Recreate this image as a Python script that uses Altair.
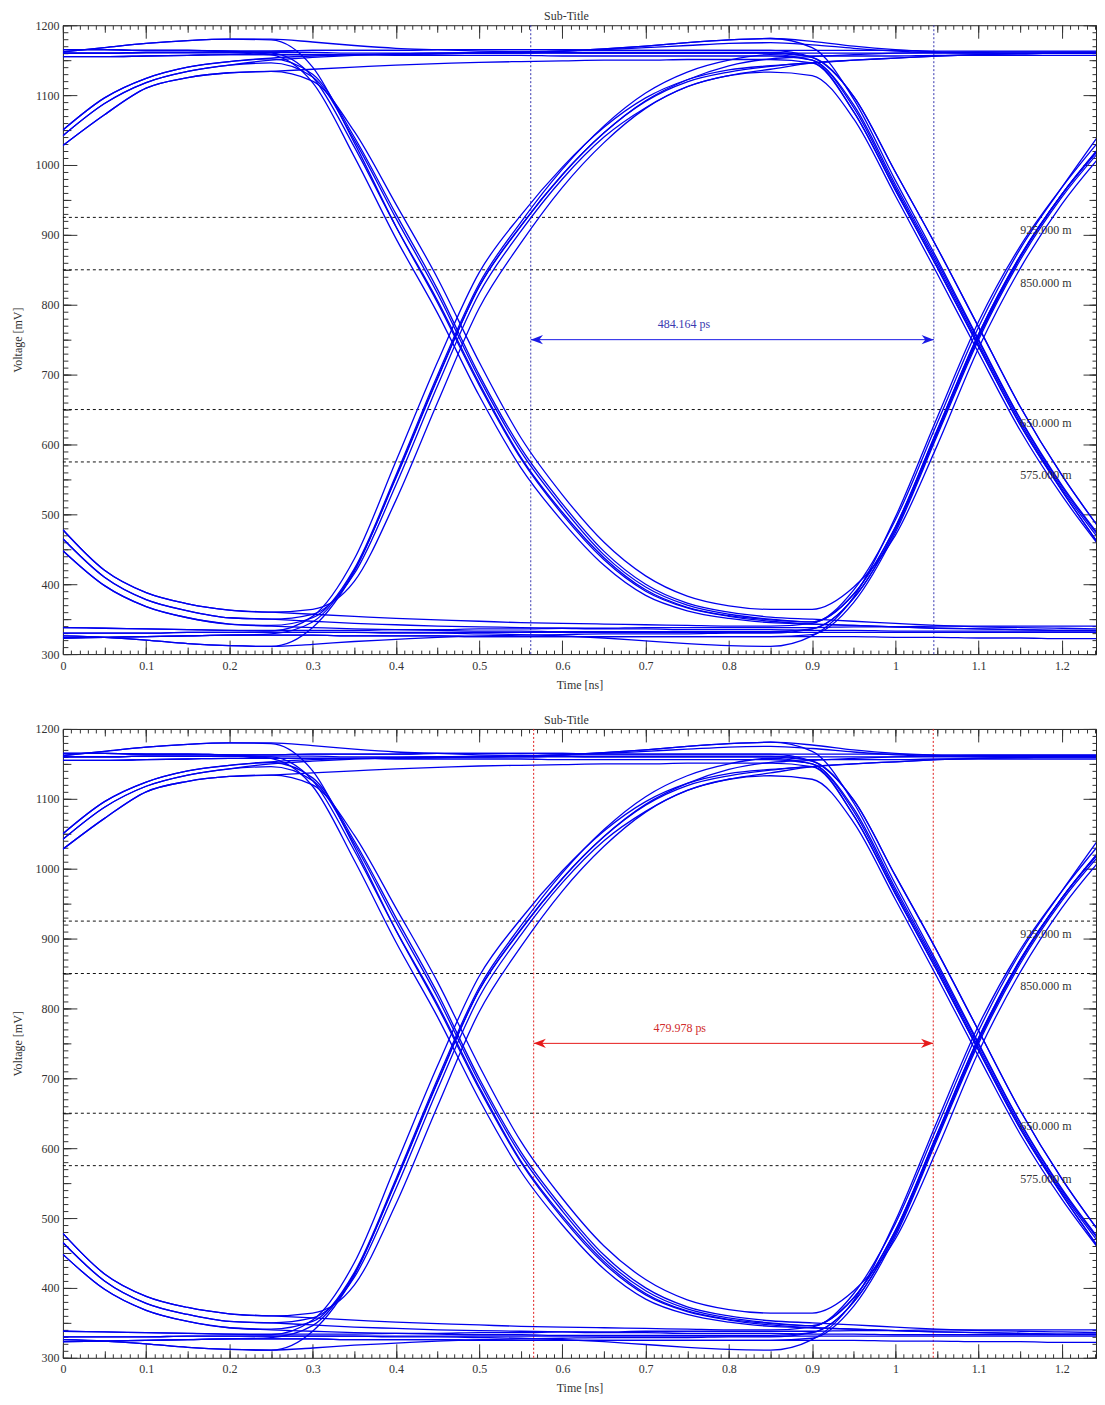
import altair as alt
import pandas as pd

FONT = "Liberation Serif"
TEXT_COLOR = "#333333"
TICK_COLOR = "#333333"
TRACE_BLUE = "#0000ee"

# ---------------- axes ----------------
X_MAX = 1.241
Y_MIN, Y_MAX = 300, 1200
X_TICK_LABELS = [0, 0.1, 0.2, 0.3, 0.4, 0.5, 0.6, 0.7, 0.8, 0.9, 1.0, 1.1, 1.2]
Y_TICK_LABELS = [300, 400, 500, 600, 700, 800, 900, 1000, 1100, 1200]

# ---------------- sample times (ns) ----------------
T_GRID = [0.00, 0.05, 0.10, 0.15, 0.20, 0.25, 0.30, 0.35, 0.40, 0.45, 0.50, 0.55, 0.60,
          0.65, 0.70, 0.75, 0.80, 0.85, 0.90, 0.95, 1.00, 1.05, 1.10, 1.15, 1.20, 1.25]

# --- trace pieces (mV) ---
# part A: t = 0.00 .. 0.20
A_RT1 = [1050, 1096, 1124, 1140, 1148]
A_RT2 = [1028, 1072, 1110, 1125, 1132]
A_RT3 = [1042, 1088, 1118, 1134, 1143]
A_H1 = [1160, 1160, 1161, 1161, 1161]
A_H2 = [1155, 1155, 1156, 1157, 1158]
A_H3 = [1165, 1165, 1164, 1164, 1163]
A_HB = [1162, 1168, 1174, 1178, 1180]
A_FT1 = [478, 420, 388, 372, 363]
A_FT2 = [465, 410, 378, 362, 352]
A_FT3 = [448, 398, 368, 352, 343]
A_L1 = [330, 330, 330, 331, 331]
A_L2 = [338, 337, 336, 335, 334]
A_L3 = [323, 324, 325, 326, 327]
A_LD = [326, 324, 320, 315, 312]

# part B: t = 0.25 .. 0.85
B_HHA = [1161, 1161, 1160, 1160, 1160, 1160, 1160, 1160, 1160, 1160, 1160, 1160, 1160]
B_HHB = [1158, 1158, 1158, 1157, 1157, 1157, 1157, 1156, 1156, 1156, 1156, 1156, 1156]
B_HHC = [1163, 1164, 1164, 1164, 1165, 1165, 1165, 1165, 1164, 1164, 1164, 1164, 1164]
B_HBS = [1180, 1176, 1171, 1167, 1165, 1163, 1162, 1161, 1160, 1160, 1160, 1160, 1160]
B_HB2 = [1158, 1158, 1158, 1158, 1159, 1160, 1161, 1163, 1166, 1170, 1175, 1179, 1181]
B_RH1 = [1153, 1156, 1158, 1159, 1160, 1160, 1160, 1161, 1161, 1161, 1161, 1161, 1161]
B_RH2 = [1134, 1137, 1140, 1143, 1145, 1147, 1148, 1149, 1150, 1150, 1151, 1151, 1151]
B_RH3 = [1150, 1154, 1157, 1159, 1160, 1161, 1162, 1163, 1165, 1168, 1171, 1174, 1175]
B_FA = [1158, 1118, 1012, 895, 788, 670, 567, 490, 427, 384, 362, 351, 345]
B_FB = [1152, 1130, 1040, 930, 822, 700, 595, 515, 447, 400, 373, 360, 353]
B_FC = [1134, 1120, 1048, 944, 838, 718, 610, 528, 460, 412, 383, 369, 364]
B_FD = [1179, 1140, 1032, 912, 803, 685, 580, 500, 435, 390, 366, 354, 347]
B_FE = [1160, 1126, 1026, 912, 806, 688, 582, 503, 438, 392, 367, 355, 349]
B_FF = [1146, 1126, 1036, 924, 816, 695, 590, 510, 442, 396, 370, 357, 350]
B_RA = [333, 354, 436, 576, 718, 846, 928, 997, 1054, 1096, 1122, 1136, 1142]
B_RA2 = [329, 346, 420, 552, 694, 826, 913, 986, 1046, 1091, 1119, 1133, 1141]
B_RB = [360, 364, 404, 520, 660, 795, 888, 968, 1032, 1081, 1112, 1128, 1137]
B_RB2 = [350, 357, 415, 542, 684, 816, 905, 980, 1040, 1082, 1112, 1128, 1133]
B_RC = [311, 338, 418, 553, 695, 826, 912, 986, 1046, 1092, 1122, 1142, 1152]
B_RD = [341, 352, 422, 556, 699, 830, 918, 994, 1056, 1103, 1133, 1150, 1158]
B_LLA = [331, 331, 331, 331, 331, 331, 331, 331, 331, 331, 331, 331, 331]
B_LLB = [334, 334, 334, 335, 335, 336, 336, 337, 337, 338, 338, 338, 338]
B_LLC = [327, 327, 326, 326, 326, 325, 325, 325, 325, 325, 325, 325, 325]
B_LDS = [311, 314, 318, 321, 324, 326, 327, 328, 329, 329, 329, 330, 330]
B_LD2 = [331, 331, 331, 330, 330, 329, 328, 326, 323, 319, 315, 312, 311]
B_FL1 = [360, 357, 354, 351, 349, 347, 345, 344, 343, 342, 341, 340, 340]
B_FL2 = [350, 347, 344, 342, 340, 339, 338, 337, 336, 336, 335, 335, 335]
B_FL3 = [340, 338, 336, 335, 334, 333, 333, 332, 332, 332, 332, 332, 332]

# part C: t = 0.90 .. 1.25
C_F2A = [1150, 1086, 972, 862, 748, 636, 540, 460]
C_F2B = [1154, 1098, 990, 882, 768, 654, 556, 472]
C_F2C = [1128, 1066, 956, 845, 731, 620, 527, 447]
C_F2D = [1168, 1094, 978, 866, 750, 637, 542, 462]
C_F2E = [1150, 1082, 968, 858, 744, 632, 537, 456]
C_F2F = [1146, 1076, 964, 854, 740, 628, 534, 448]
C_R2A = [346, 386, 482, 620, 758, 870, 958, 1030]
C_R2B = [364, 396, 470, 598, 738, 852, 944, 1018]
C_R2C = [326, 382, 496, 638, 776, 884, 968, 1042]
C_R2D = [336, 380, 478, 616, 754, 868, 958, 1032]
C_R2E = [344, 392, 492, 630, 768, 880, 968, 1052]
C_R2F = [328, 374, 474, 612, 750, 864, 954, 1026]
C_HH = [1160, 1160, 1160, 1160, 1160, 1160, 1160, 1160]
C_HHB = [1156, 1156, 1156, 1157, 1157, 1157, 1157, 1157]
C_HHC = [1164, 1164, 1164, 1163, 1163, 1163, 1163, 1163]
C_RH = [1146, 1150, 1153, 1156, 1158, 1159, 1160, 1160]
C_RHB = [1155, 1158, 1160, 1161, 1162, 1162, 1162, 1162]
C_HB = [1177, 1170, 1165, 1162, 1161, 1160, 1160, 1160]
C_HBB = [1172, 1167, 1163, 1161, 1160, 1160, 1160, 1160]
C_LL = [331, 331, 331, 331, 331, 331, 331, 331]
C_LLB = [338, 339, 339, 340, 340, 340, 340, 340]
C_LLC = [325, 325, 324, 324, 323, 323, 322, 322]
C_LLS = [334, 334, 333, 333, 333, 333, 333, 333]
C_FL = [343, 341, 339, 337, 336, 335, 334, 334]
C_FLB = [350, 347, 344, 341, 339, 338, 337, 336]

TRACES = [
    (A_H1, B_HHA, C_HH), (A_H2, B_HHB, C_F2E), (A_H3, B_FA, C_FL), (A_H1, B_FE, C_R2A),
    (A_HB, B_HBS, C_HHB), (A_HB, B_FD, C_FL), (A_RT1, B_RH1, C_F2B), (A_RT2, B_FC, C_R2B),
    (A_RT3, B_RH3, C_HBB), (A_RT1, B_FB, C_FLB), (A_RT2, B_RH2, C_F2F), (A_H2, B_HB2, C_F2D),
    (A_FT1, B_RB, C_RH), (A_FT2, B_RB2, C_F2C), (A_FT3, B_FL3, C_R2D), (A_FT1, B_FL1, C_R2E),
    (A_FT2, B_FL2, C_LLS), (A_L1, B_LLA, C_LL), (A_L2, B_RA, C_RH), (A_L3, B_RA2, C_F2F),
    (A_LD, B_RC, C_RHB), (A_LD, B_LDS, C_R2D), (A_L1, B_LD2, C_R2C), (A_L3, B_LLC, C_R2F),
    (A_H3, B_HHC, C_F2B), (A_FT3, B_RD, C_F2A), (A_L2, B_LLB, C_LLB), (A_RT3, B_FF, C_R2A),
    (A_H1, B_HB2, C_HB), (A_L3, B_LLC, C_LLC), (A_H3, B_HHC, C_HHC),
]

# ---------------- markers ----------------
LEVELS = [925, 850, 650, 575]
LEVEL_LABELS = ["925.000 m", "850.000 m", "650.000 m", "575.000 m"]
LEVEL_LABEL_T = 1.150
ARROW_V = 750
DELTA_V = 772

PANELS = [
    {"cursors": [0.5620, 1.0462], "delta": "484.164 ps", "delta_t": 0.746,
     "arrow": "#1a1ae6", "text": "#3a3ab0", "cursor": "#3434b0"},
    {"cursors": [0.5655, 1.0455], "delta": "479.978 ps", "delta_t": 0.741,
     "arrow": "#e61a1a", "text": "#d02a2a", "cursor": "#e01e1e"},
]

rows = []
for k, (a, b, c) in enumerate(TRACES):
    vals = a + b + c
    for t, v in zip(T_GRID, vals):
        rows.append({"trace": k, "t": t, "v": v})
trace_df = pd.DataFrame(rows)
level_df = pd.DataFrame({"v": LEVELS, "label": LEVEL_LABELS,
                         "t": [LEVEL_LABEL_T] * len(LEVELS)})

xs = alt.Scale(domain=[0, X_MAX], nice=False, zero=False)
ys = alt.Scale(domain=[Y_MIN, Y_MAX], nice=False, zero=False)

ARROW_LEFT = "M0,0 L2,-0.75 L1.4,0 L2,0.75 Z"
ARROW_RIGHT = "M0,0 L-2,-0.75 L-1.4,0 L-2,0.75 Z"


def tick_axis(orient, size, count):
    return alt.Axis(orient=orient, offset=-size, tickSize=size, tickCount=count,
                    labels=False, domain=False, grid=False, ticks=True,
                    tickColor=TICK_COLOR, tickWidth=1, title=None)


def panel(p):
    c0, c1 = p["cursors"]
    arrow_df = pd.DataFrame({"t1": [c0], "t2": [c1], "v": [ARROW_V]})
    head_l = pd.DataFrame({"t": [c0], "v": [ARROW_V]})
    head_r = pd.DataFrame({"t": [c1], "v": [ARROW_V]})
    cursor_df = pd.DataFrame({"t": [c0, c1], "side": ["a", "b"]})
    delta_df = pd.DataFrame({"t": [p["delta_t"]], "v": [DELTA_V], "label": [p["delta"]]})

    x_lab = alt.Axis(orient="bottom", values=X_TICK_LABELS, format="~g", ticks=False,
                     tickSize=0, domain=False, grid=False, labelPadding=6,
                     labelFlush=False, title="Time [ns]", titlePadding=8,
                     labelFont=FONT, titleFont=FONT, labelFontSize=12, titleFontSize=12,
                     labelColor=TEXT_COLOR, titleColor=TEXT_COLOR, titleFontWeight="normal")
    y_lab = alt.Axis(orient="left", values=Y_TICK_LABELS, format="d", ticks=False,
                     tickSize=0, domain=False, grid=False, labelPadding=4,
                     title="Voltage [mV]", titlePadding=10,
                     labelFont=FONT, titleFont=FONT, labelFontSize=12, titleFontSize=12,
                     labelColor=TEXT_COLOR, titleColor=TEXT_COLOR, titleFontWeight="normal")

    levels = alt.Chart(level_df).mark_rule(color="#111111", strokeWidth=1,
                                           strokeDash=[3, 3]).encode(
        y=alt.Y("v:Q", scale=ys, axis=None))
    cursors = alt.Chart(cursor_df).mark_rule(strokeWidth=1, strokeDash=[2, 2],
                                             opacity=1).encode(
        x=alt.X("t:Q", scale=xs, axis=None),
        color=alt.value(p["cursor"]))
    traces = alt.Chart(trace_df).mark_line(interpolate="monotone", strokeWidth=1.3,
                                           color=TRACE_BLUE, clip=True).encode(
        x=alt.X("t:Q", scale=xs, axis=x_lab),
        y=alt.Y("v:Q", scale=ys, axis=y_lab),
        detail="trace:N")
    level_text = alt.Chart(level_df).mark_text(font=FONT, fontSize=12, color=TEXT_COLOR,
                                               align="left", baseline="middle", dy=13).encode(
        x=alt.X("t:Q", scale=xs, axis=None), y=alt.Y("v:Q", scale=ys, axis=None),
        text="label:N")
    arrow = alt.Chart(arrow_df).mark_rule(color=p["arrow"], strokeWidth=1).encode(
        x=alt.X("t1:Q", scale=xs, axis=None), x2="t2:Q",
        y=alt.Y("v:Q", scale=ys, axis=None))
    hl = alt.Chart(head_l).mark_point(shape=ARROW_LEFT, filled=True, size=150,
                                      color=p["arrow"], opacity=1).encode(
        x=alt.X("t:Q", scale=xs, axis=None), y=alt.Y("v:Q", scale=ys, axis=None))
    hr = alt.Chart(head_r).mark_point(shape=ARROW_RIGHT, filled=True, size=150,
                                      color=p["arrow"], opacity=1).encode(
        x=alt.X("t:Q", scale=xs, axis=None), y=alt.Y("v:Q", scale=ys, axis=None))
    delta = alt.Chart(delta_df).mark_text(font=FONT, fontSize=12, color=p["text"],
                                          align="center", baseline="middle").encode(
        x=alt.X("t:Q", scale=xs, axis=None), y=alt.Y("v:Q", scale=ys, axis=None),
        text="label:N")

    tick_layers = []
    for xo, yo, xsz, ysz, xc, yc in [
        ("bottom", "left", 14, 14, 12, 9),
        ("bottom", "left", 7, 8, 25, 18),
        ("bottom", "left", 4, 5, 125, 90),
        ("top", "right", 13, 13, 12, 9),
        ("top", "right", 7, 7, 25, 18),
        ("top", "right", 4, 4, 125, 90),
    ]:
        tick_layers.append(
            alt.Chart(arrow_df).mark_point(opacity=0).encode(
                x=alt.X("t1:Q", scale=xs, axis=tick_axis(xo, xsz, xc)),
                y=alt.Y("v:Q", scale=ys, axis=tick_axis(yo, ysz, yc))))

    return alt.layer(levels, cursors, traces, *tick_layers, arrow, hl, hr,
                     level_text, delta).resolve_axis(
        x="independent", y="independent").properties(
        width=1035, height=630,
        title=alt.TitleParams(text="Sub-Title", font=FONT, fontSize=12,
                              fontWeight="normal", color=TEXT_COLOR,
                              anchor="middle", dx=-13, offset=-4))


chart = alt.vconcat(panel(PANELS[0]), panel(PANELS[1]), spacing=22).properties(
    padding={"left": 3, "top": 0, "right": 0, "bottom": 0},
    background="white",
).configure_view(stroke="#222222", strokeWidth=1).configure_axis(
    labelFont=FONT, titleFont=FONT, labelFontSize=12, titleFontSize=12,
    labelColor=TEXT_COLOR, titleColor=TEXT_COLOR, titleFontWeight="normal"
)

chart.save("out.html", embed_options={"renderer": "svg", "actions": False})
